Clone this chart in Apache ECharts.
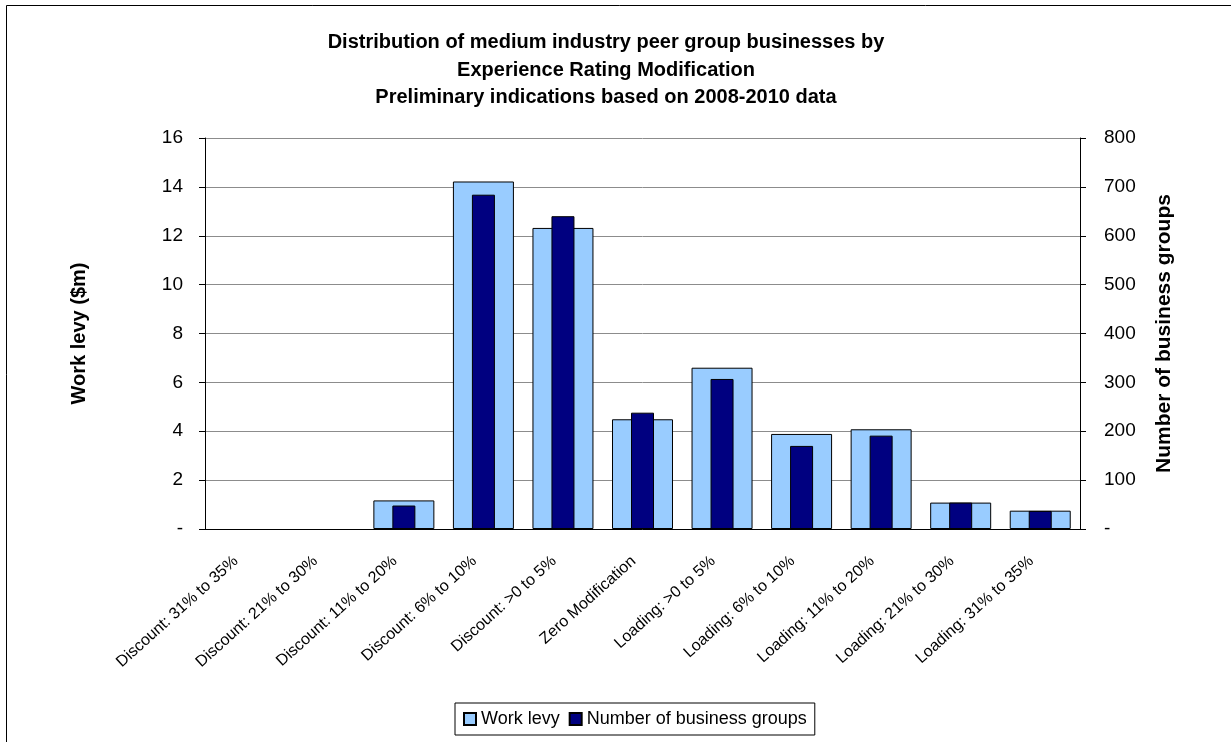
<!DOCTYPE html>
<html>
<head>
<meta charset="utf-8">
<script src="https://cdn.jsdelivr.net/npm/echarts@6/dist/echarts.min.js"></script>
<style>
  html, body { margin: 0; padding: 0; background: #fff; }
  #chart { width: 1231px; height: 742px; }
</style>
</head>
<body>
<div id="chart"></div>
<script>
const categories = [
  'Discount: 31% to 35%', 'Discount: 21% to 30%', 'Discount: 11% to 20%',
  'Discount: 6% to 10%', 'Discount: >0 to 5%', 'Zero Modification',
  'Loading: >0 to 5%', 'Loading: 6% to 10%', 'Loading: 11% to 20%',
  'Loading: 21% to 30%', 'Loading: 31% to 35%'
];
const workLevy = [0, 0, 1.17, 14.22, 12.32, 4.49, 6.6, 3.89, 4.08, 1.08, 0.75];
const businessGroups = [0, 0, 48, 684, 640, 238, 307, 170, 191, 54, 37];

const font = 'Liberation Sans, Arial, sans-serif';
const chart = echarts.init(document.getElementById('chart'));

// zero values draw no bar at all
const noZero = v => (v === 0 ? null : v);
const dash = v => (v === 0 ? '-' : v);

chart.setOption({
  animation: false,
  textStyle: { fontFamily: font },
  title: {
    text: 'Distribution of medium industry peer group businesses by\nExperience Rating Modification\nPreliminary indications based on 2008-2010 data',
    left: 601, top: 24, textAlign: 'center',
    textStyle: { fontSize: 20, fontWeight: 'bold', color: '#000', lineHeight: 27.5 }
  },
  graphic: [{
    type: 'rect',
    shape: { x: 6.5, y: 5.5, width: 1240, height: 760 },
    style: { fill: 'none', stroke: '#000', lineWidth: 1 }
  }],
  legend: {
    bottom: 7, left: 455,
    itemWidth: 12, itemHeight: 12, itemGap: 9,
    padding: [7, 8],
    borderColor: '#000', borderWidth: 1,
    icon: 'rect',
    textStyle: { fontSize: 18, color: '#000', fontFamily: font },
    data: ['Work levy', 'Number of business groups']
  },
  grid: { left: 205, right: 151, top: 138, bottom: 213 },
  xAxis: [{
    type: 'category',
    data: categories,
    axisLine: { lineStyle: { color: '#000' } },
    axisTick: { length: 6, lineStyle: { color: '#000' } },
    axisLabel: { rotate: 42, fontSize: 16, color: '#000', interval: 0, margin: 22, padding: [0, 12, 0, 0] }
  }, {
    type: 'category',
    data: categories,
    show: false
  }],
  yAxis: [{
    type: 'value', min: 0, max: 16, interval: 2,
    name: 'Work levy ($m)', nameLocation: 'middle', nameGap: 116, nameRotate: 90,
    nameTextStyle: { fontSize: 20, fontWeight: 'bold', color: '#000' },
    axisLine: { show: true, lineStyle: { color: '#000' } },
    axisTick: { show: true, length: 6, lineStyle: { color: '#000' } },
    axisLabel: { fontSize: 19, color: '#000', margin: 22, formatter: dash },
    splitLine: { lineStyle: { color: '#8c8c8c' } }
  }, {
    type: 'value', min: 0, max: 800, interval: 100, position: 'right',
    name: 'Number of business groups', nameLocation: 'middle', nameGap: 74, nameRotate: 90,
    nameTextStyle: { fontSize: 21, fontWeight: 'bold', color: '#000' },
    axisLine: { show: true, lineStyle: { color: '#000' } },
    axisTick: { show: true, length: 6, lineStyle: { color: '#000' } },
    axisLabel: { fontSize: 19, color: '#000', margin: 24, formatter: dash },
    splitLine: { show: false }
  }],
  series: [{
    name: 'Work levy', type: 'bar', xAxisIndex: 0, yAxisIndex: 0,
    data: workLevy.map(noZero), barWidth: 61,
    itemStyle: { color: '#99ccff', borderColor: '#000', borderWidth: 1 }
  }, {
    name: 'Number of business groups', type: 'bar', xAxisIndex: 1, yAxisIndex: 1,
    data: businessGroups.map(noZero), barWidth: 23,
    itemStyle: { color: '#000080', borderColor: '#000', borderWidth: 1 }
  }]
});
</script>
</body>
</html>
